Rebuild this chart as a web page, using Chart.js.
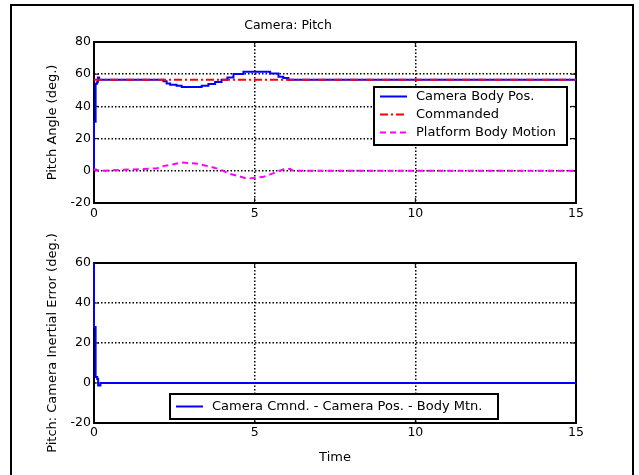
<!DOCTYPE html>
<html lang="en">
<head>
<meta charset="UTF-8">
<title>Camera: Pitch</title>
<script src="https://cdn.jsdelivr.net/npm/chart.js"></script>
<style>
  body { margin: 0; background: #fff; }
  #fig { position: relative; width: 639px; height: 475px; overflow: hidden; background: #fff; }
  #frame { position: absolute; left: 10px; top: 4px; width: 624px; height: 490px; border: 2px solid #000; box-sizing: border-box; }
  canvas { position: absolute; left: 0; }
  #pitch { top: 0; }
  #err { top: 215px; }
</style>
</head>
<body>
<div id="fig">
  <div id="frame"></div>
  <canvas id="pitch" width="639" height="240"></canvas>
  <canvas id="err" width="639" height="260"></canvas>
</div>
<script>
// top panel: pitch angle (deg.) against time
const bodyPosTime = [0, 0, 0.05, 0.09, 0.12, 0.16, 2.16, 2.26, 2.37, 2.57, 2.73, 3.35, 3.56, 3.77, 3.97, 4.15, 4.34, 4.65, 5.48, 5.74, 5.89, 6.05, 15];
const bodyPosDeg  = [0, 30.5, 54, 55, 58, 56.6, 55.6, 54.3, 53.5, 52.8, 52.1, 52.9, 53.9, 55.2, 56.6, 58, 60.1, 61.5, 60.5, 58.4, 57.6, 56.6, 56.6];

const cmdTime = [0, 15];
const cmdDeg  = [56.6, 56.6];

const platTime = [0, 0.03, 0.2, 1.95, 2.16, 2.47, 2.73, 3.19, 3.45, 3.71, 3.92, 4.08, 4.24, 4.5, 4.76, 5.28, 5.49, 5.7, 5.9, 6.1, 6.2, 15];
const platDeg  = [0, 1, 0, 1.5, 2.9, 4.1, 5.2, 4.5, 3.3, 2.1, 0.9, -0.6, -2, -3.3, -4.9, -3.7, -2.2, -0.6, 0.9, 1.3, 0, 0];

// bottom panel: inertial error
const errTime = [0, 0, 0.05, 0.1, 0.13, 0.2, 15];
const errDeg  = [60, 28, 3, 2, -1.2, 0, 0];

const xTicks = [0, 5, 10, 15];
const pitchTicks = [-20, 0, 20, 40, 60, 80];
const errTicks = [-20, 0, 20, 40, 60];

const pts = (t, v) => t.map((x, i) => ({ x: x, y: v[i] }));

Chart.defaults.font.family = 'DejaVu Sans';
Chart.defaults.color = '#000';

// axes box with inward tick marks, matlab style (drawn under the lines)
const axesBox = {
  id: 'axesBox',
  beforeDatasetsDraw(chart) {
    const { ctx, chartArea: a, scales } = chart;
    ctx.save();
    ctx.strokeStyle = '#000';
    ctx.lineWidth = 1;
    ctx.beginPath();
    scales.x.ticks.forEach(t => {
      const px = scales.x.getPixelForValue(t.value);
      ctx.moveTo(px, a.bottom); ctx.lineTo(px, a.bottom - 5);
      ctx.moveTo(px, a.top); ctx.lineTo(px, a.top + 5);
    });
    scales.y.ticks.forEach(t => {
      const py = scales.y.getPixelForValue(t.value);
      ctx.moveTo(a.left, py); ctx.lineTo(a.left + 5, py);
      ctx.moveTo(a.right, py); ctx.lineTo(a.right - 5, py);
    });
    ctx.stroke();
    ctx.lineWidth = 2;
    ctx.strokeRect(a.left, a.top, a.right - a.left, a.bottom - a.top);
    ctx.restore();
  }
};

// boxed legend inside the axes
const boxLegend = {
  id: 'boxLegend',
  afterDraw(chart, args, opts) {
    const { ctx } = chart;
    ctx.save();
    ctx.fillStyle = '#fff';
    ctx.fillRect(opts.x, opts.y, opts.w, opts.h);
    ctx.strokeStyle = '#000';
    ctx.lineWidth = 2;
    ctx.strokeRect(opts.x, opts.y, opts.w, opts.h);
    ctx.font = '13px "DejaVu Sans"';
    ctx.textBaseline = 'middle';
    ctx.fillStyle = '#000';
    chart.data.datasets.forEach((ds, i) => {
      const y = opts.y + opts.first + i * opts.row;
      ctx.beginPath();
      ctx.setLineDash(ds.borderDash || []);
      ctx.strokeStyle = ds.borderColor;
      ctx.lineWidth = 2;
      ctx.moveTo(opts.x + 6, y);
      ctx.lineTo(opts.x + 33, y);
      ctx.stroke();
      ctx.setLineDash([]);
      ctx.fillText(ds.label, opts.x + 42, y);
    });
    ctx.restore();
  }
};

function xAxis(height, padding, title) {
  return {
    type: 'linear', min: 0, max: 15,
    afterBuildTicks: s => { s.ticks = xTicks.map(v => ({ value: v })); },
    afterFit: s => { s.height = height; },
    ticks: { font: { size: 12.5 }, padding: padding, maxRotation: 0 },
    grid: { color: '#000', lineWidth: 1.5, drawTicks: false },
    border: { display: false, dash: [1.5, 2] },
    title: title
  };
}

function yAxis(min, max, ticks, label) {
  return {
    min: min, max: max,
    afterBuildTicks: s => { s.ticks = ticks.map(v => ({ value: v })); },
    afterFit: s => { s.width = 94; },
    ticks: { font: { size: 12.5 }, padding: 3 },
    grid: { color: '#000', lineWidth: 1.5, drawTicks: false },
    border: { display: false, dash: [1.5, 2] },
    title: { display: true, text: label, font: { size: 13 }, padding: { top: 45.2, bottom: 0 } }
  };
}

new Chart(document.getElementById('pitch'), {
  type: 'line',
  data: {
    datasets: [
      { label: 'Camera Body Pos.', data: pts(bodyPosTime, bodyPosDeg), borderColor: '#0000ff', borderWidth: 2, stepped: true, clip: 4, order: 2 },
      { label: 'Commanded', data: pts(cmdTime, cmdDeg), borderColor: '#ff0000', borderWidth: 2, borderDash: [8, 3, 2, 3], order: 1 },
      { label: 'Platform Body Motion', data: pts(platTime, platDeg), borderColor: '#ff00ff', borderWidth: 2, borderDash: [6, 4], order: 0 }
    ]
  },
  options: {
    responsive: false,
    animation: false,
    pointRadius: 0,
    layout: { padding: { top: 18, left: 0, right: 63, bottom: 0 } },
    scales: {
      x: xAxis(37, 3, { display: false }),
      y: yAxis(-20, 80, pitchTicks, 'Pitch Angle (deg.)')
    },
    plugins: {
      legend: { display: false },
      tooltip: { enabled: false },
      title: { display: true, text: 'Camera: Pitch', font: { size: 12.5, weight: 'normal' }, padding: { top: 0, bottom: 9 } },
      boxLegend: { x: 374, y: 87, w: 193, h: 58, first: 9.5, row: 18 }
    }
  },
  plugins: [axesBox, boxLegend]
});

new Chart(document.getElementById('err'), {
  type: 'line',
  data: {
    datasets: [
      { label: 'Camera Cmnd. - Camera Pos. - Body Mtn.', data: pts(errTime, errDeg), borderColor: '#0000ff', borderWidth: 2, stepped: true, clip: 4 }
    ]
  },
  options: {
    responsive: false,
    animation: false,
    pointRadius: 0,
    layout: { padding: { top: 48, left: 0, right: 63, bottom: 0 } },
    scales: {
      x: xAxis(52, 2, { display: true, text: 'Time', font: { size: 13 }, padding: { top: 0, bottom: 9.2 } }),
      y: yAxis(-20, 60, errTicks, 'Pitch: Camera Inertial Error (deg.)')
    },
    plugins: {
      legend: { display: false },
      tooltip: { enabled: false },
      boxLegend: { x: 170, y: 179, w: 328, h: 25, first: 12.5, row: 18 }
    }
  },
  plugins: [axesBox, boxLegend]
});
</script>
</body>
</html>
